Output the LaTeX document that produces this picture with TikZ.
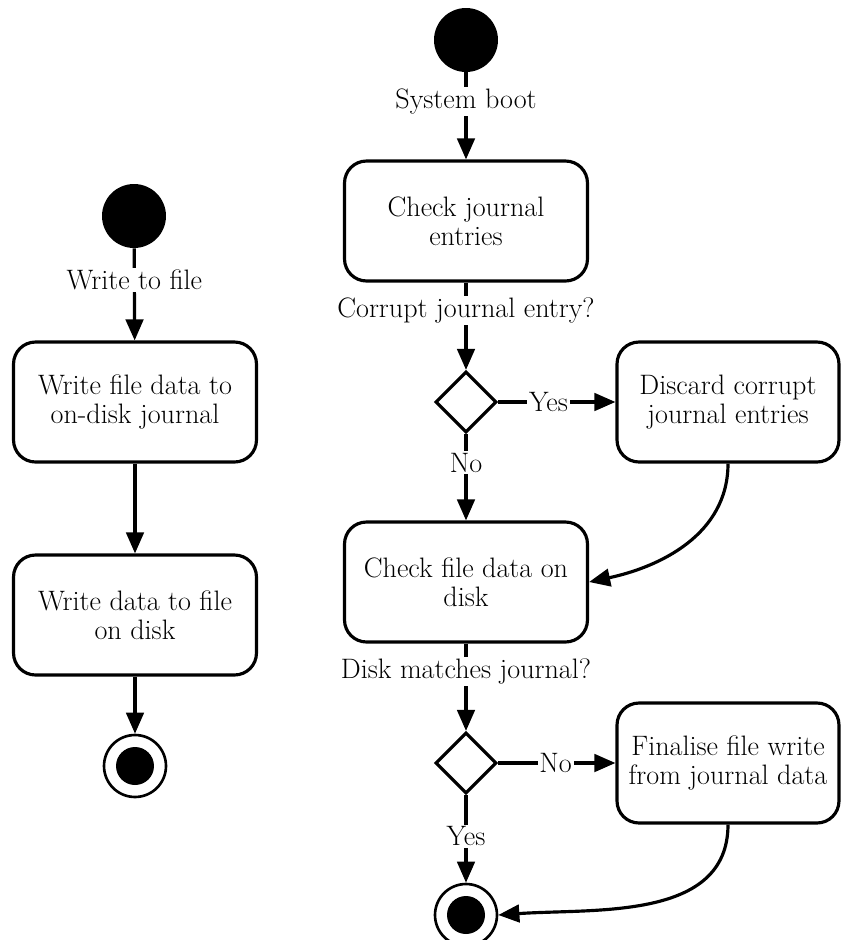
\documentclass[tikz,border=0pt]{standalone}
\usepackage{fontspec}
\usetikzlibrary{shapes.geometric,arrows.meta}
\begin{document}
\begin{tikzpicture}[x=0.02cm,y=-0.02cm,
  every node/.style={font=\fontsize{16}{16.5}\selectfont},
  startnode/.style={circle,fill=black,minimum size=1.28cm,inner sep=0pt},
  endnode/.style={circle,draw,line width=1.5pt,minimum size=1.24cm,inner sep=0pt,
    path picture={\fill (path picture bounding box.center) circle (0.38cm);}},
  action/.style={rectangle,rounded corners=0.44cm,draw,line width=1.8pt,
    minimum height=2.4cm,align=center,inner sep=0pt},
  widebox/.style={action,minimum width=4.86cm},
  narrowbox/.style={action,minimum width=4.44cm},
  decision/.style={diamond,draw,line width=1.8pt,minimum width=1.22cm,minimum height=1.22cm,inner sep=0pt},
  flow/.style={line width=1.8pt,-{Triangle[length=12pt,width=10pt]}},
  lbl/.style={fill=white,inner sep=1pt}]
\useasboundingbox (0,0) rectangle (849,940);

% left activity: writing a file
\node[startnode] (ls) at (134,216) {};
\node[widebox] (lw1) at (135,402) {Write file data to\\on-disk journal};
\node[widebox] (lw2) at (135,615) {Write data to file\\on disk};
\node[endnode] (le) at (135,766) {};

\draw[flow] (ls) -- node[lbl,pos=0.34] {Write to file} (lw1);
\draw[flow] (lw1) -- (lw2);
\draw[flow] (lw2) -- (le);

% right activity: recovery at boot
\node[startnode] (rs) at (466,40) {};
\node[widebox] (cj) at (466,221) {Check journal\\entries};
\node[decision] (d1) at (466,402) {};
\node[narrowbox] (dc) at (728,402) {Discard corrupt\\journal entries};
\node[widebox] (cf) at (466,582) {Check file data on\\disk};
\node[decision] (d2) at (466,763) {};
\node[narrowbox] (fw) at (728,763) {Finalise file write\\from journal data};
\node[endnode] (re) at (466,915) {};

\draw[flow] (rs) -- node[lbl,pos=0.33] {System boot} (cj);
\draw[flow] (cj) -- node[lbl,pos=0.32] {Corrupt journal entry?} (d1);
\draw[flow] (d1) -- node[lbl,pos=0.43] {Yes} (dc);
\draw[flow] (d1) -- node[lbl,pos=0.33] {No} (cf);
\draw[flow] (dc.south) to[out=-90,in=12] (cf.east);
\draw[flow] (cf) -- node[lbl,pos=0.32] {Disk matches journal?} (d2);
\draw[flow] (d2) -- node[lbl,pos=0.49] {No} (fw);
\draw[flow] (d2) -- node[lbl,pos=0.47] {Yes} (re);
\draw[flow] (fw.south) to[out=-90,in=4] (re.east);
\end{tikzpicture}
\end{document}
